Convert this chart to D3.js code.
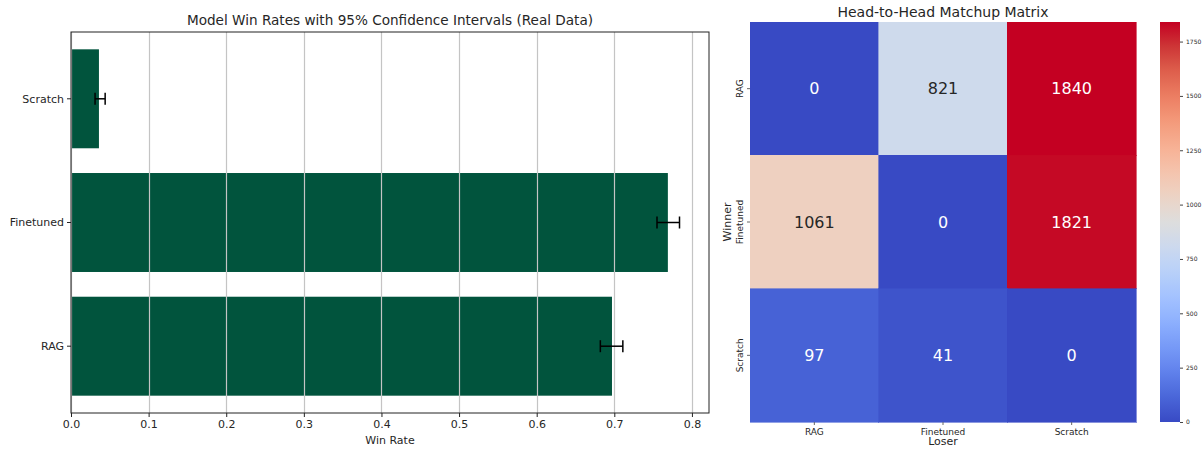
<!DOCTYPE html>
<html>
<head>
<meta charset="utf-8">
<script src="https://cdn.jsdelivr.net/npm/d3@7"></script>
<style>
  html, body { margin: 0; padding: 0; background: #fff; }
  svg { display: block; font-family: "DejaVu Sans", sans-serif; }
</style>
</head>
<body>
<svg id="chart" width="1202" height="449"></svg>
<script>
// Win rates with 95% confidence intervals
const models = ["RAG", "Finetuned", "Scratch"];
const winRates = [0.697, 0.769, 0.036];
const ciLow = [0.682, 0.755, 0.031];
const ciHigh = [0.711, 0.784, 0.044];
const rateTicks = [0, 0.1, 0.2, 0.3, 0.4, 0.5, 0.6, 0.7, 0.8];

// Head-to-head matrix: rows = winner, columns = loser
const winners = ["RAG", "Finetuned", "Scratch"];
const losers = ["RAG", "Finetuned", "Scratch"];
const matchups = [
  [0, 821, 1840],
  [1061, 0, 1821],
  [97, 41, 0]
];
const colorbarTicks = [0, 250, 500, 750, 1000, 1250, 1500, 1750];

const svg = d3.select("#chart");
const textColor = "#262626";

// ---------- Left panel: horizontal bar chart ----------
const L = { left: 71, right: 709, top: 32, bottom: 413 };
const x = d3.scaleLinear().domain([0, 0.822]).range([L.left, L.right]);
// matplotlib-style categorical positions: index 0 at bottom
const yPos = d3.scaleLinear().domain([-0.54, 2.54]).range([L.bottom, L.top]);
const barH = yPos(0) - yPos(0.8);

const left = svg.append("g");

left.selectAll("rect.bar")
  .data(models)
  .join("rect")
  .attr("class", "bar")
  .attr("x", x(0))
  .attr("y", (d, i) => yPos(i + 0.4))
  .attr("width", (d, i) => x(winRates[i]) - x(0))
  .attr("height", barH)
  .attr("fill", "#01543d");

// vertical grid lines drawn over the bars
left.append("g")
  .selectAll("line")
  .data(rateTicks)
  .join("line")
  .attr("x1", d => Math.round(x(d)) + 0.5)
  .attr("x2", d => Math.round(x(d)) + 0.5)
  .attr("y1", L.top)
  .attr("y2", L.bottom)
  .attr("stroke", "#c4c4c4")
  .attr("stroke-width", 1.2);

// error bars
const eb = left.append("g").attr("stroke", "#000").attr("stroke-width", 1.5);
models.forEach((m, i) => {
  const cy = yPos(i);
  eb.append("line").attr("x1", x(ciLow[i])).attr("x2", x(ciHigh[i])).attr("y1", cy).attr("y2", cy);
  eb.append("line").attr("x1", x(ciLow[i])).attr("x2", x(ciLow[i])).attr("y1", cy - 6).attr("y2", cy + 6);
  eb.append("line").attr("x1", x(ciHigh[i])).attr("x2", x(ciHigh[i])).attr("y1", cy - 6).attr("y2", cy + 6);
});

// frame
left.append("rect")
  .attr("x", L.left).attr("y", L.top)
  .attr("width", L.right - L.left).attr("height", L.bottom - L.top)
  .attr("fill", "none").attr("stroke", "#222").attr("stroke-width", 1);

// x axis
const xAxis = d3.axisBottom(x).tickValues(rateTicks).tickFormat(d3.format(".1f")).tickSize(4).tickPadding(3);
const gx = left.append("g").attr("transform", `translate(0,${L.bottom})`).call(xAxis);
gx.select(".domain").remove();
gx.selectAll("line").attr("stroke", "#222");
gx.selectAll("text").attr("fill", textColor).style("font-size", "11px").style("font-family", "DejaVu Sans");

// y axis
const gy = left.append("g");
models.forEach((m, i) => {
  const cy = yPos(i);
  gy.append("line").attr("x1", L.left - 4).attr("x2", L.left).attr("y1", cy).attr("y2", cy).attr("stroke", "#222");
  gy.append("text").attr("x", L.left - 7).attr("y", cy).attr("dy", "0.35em")
    .attr("text-anchor", "end").attr("fill", textColor).style("font-size", "11px").text(m);
});

left.append("text").attr("x", (L.left + L.right) / 2).attr("y", 444)
  .attr("text-anchor", "middle").attr("fill", textColor).style("font-size", "11px").text("Win Rate");

left.append("text").attr("x", (L.left + L.right) / 2).attr("y", 25)
  .attr("text-anchor", "middle").attr("fill", textColor).style("font-size", "13.6px")
  .text("Model Win Rates with 95% Confidence Intervals (Real Data)");

// ---------- Right panel: heatmap ----------
const H = { left: 750, right: 1136, top: 22, bottom: 422 };
const cx = d3.scaleBand().domain(losers).range([H.left, H.right]);
const cy = d3.scaleBand().domain(winners).range([H.top, H.bottom]);

const vmax = d3.max(matchups.flat());
// coolwarm diverging colormap stops
const coolwarmStops = [
  [56, 74, 196], [74, 102, 217], [96, 129, 236], [119, 154, 247], [141, 176, 254],
  [163, 194, 255], [184, 208, 249], [204, 217, 238], [221, 221, 221], [236, 211, 197],
  [245, 196, 173], [247, 177, 148], [244, 154, 123], [236, 127, 99], [222, 96, 77],
  [205, 55, 55], [196, 0, 34]
].map(c => d3.rgb(c[0], c[1], c[2]));
const coolwarm = d3.scaleLinear()
  .domain(d3.range(coolwarmStops.length).map(i => i / (coolwarmStops.length - 1)))
  .range(coolwarmStops)
  .interpolate(d3.interpolateRgb)
  .clamp(true);
const color = v => coolwarm(v / vmax);

const right = svg.append("g");
const cells = [];
matchups.forEach((row, r) => row.forEach((v, c) => cells.push({ r, c, v })));

right.selectAll("rect.cell")
  .data(cells)
  .join("rect")
  .attr("class", "cell")
  .attr("x", d => cx(losers[d.c]))
  .attr("y", d => cy(winners[d.r]))
  .attr("width", cx.bandwidth())
  .attr("height", cy.bandwidth())
  .attr("fill", d => color(d.v))
  .attr("stroke", d => color(d.v))
  .attr("stroke-width", 0.6)
  .attr("shape-rendering", "crispEdges");

function luminance(c) {
  const f = u => { u /= 255; return u <= 0.03928 ? u / 12.92 : Math.pow((u + 0.055) / 1.055, 2.4); };
  return 0.2126 * f(c.r) + 0.7152 * f(c.g) + 0.0722 * f(c.b);
}

right.selectAll("text.ann")
  .data(cells)
  .join("text")
  .attr("class", "ann")
  .attr("x", d => cx(losers[d.c]) + cx.bandwidth() / 2)
  .attr("y", d => cy(winners[d.r]) + cy.bandwidth() / 2)
  .attr("dy", "0.36em")
  .attr("text-anchor", "middle")
  .attr("fill", d => luminance(d3.rgb(color(d.v))) > 0.408 ? textColor : "#ffffff")
  .style("font-size", "16px")
  .text(d => d.v);

// heatmap ticks and labels
losers.forEach(l => {
  const px = cx(l) + cx.bandwidth() / 2;
  right.append("line").attr("x1", px).attr("x2", px).attr("y1", H.bottom).attr("y2", H.bottom + 3).attr("stroke", "#666");
  right.append("text").attr("x", px).attr("y", 435).attr("text-anchor", "middle")
    .attr("fill", textColor).style("font-size", "9px").text(l);
});
winners.forEach(w => {
  const py = cy(w) + cy.bandwidth() / 2;
  right.append("line").attr("x1", H.left - 3).attr("x2", H.left).attr("y1", py).attr("y2", py).attr("stroke", "#666");
  right.append("text").attr("transform", `translate(743,${py}) rotate(-90)`).attr("text-anchor", "middle")
    .attr("fill", textColor).style("font-size", "9px").text(w);
});

right.append("text").attr("x", (H.left + H.right) / 2).attr("y", 445)
  .attr("text-anchor", "middle").attr("fill", textColor).style("font-size", "11px").text("Loser");
right.append("text").attr("transform", `translate(731,${(H.top + H.bottom) / 2}) rotate(-90)`)
  .attr("text-anchor", "middle").attr("fill", textColor).style("font-size", "11px").text("Winner");

right.append("text").attr("x", (H.left + H.right) / 2).attr("y", 17)
  .attr("text-anchor", "middle").attr("fill", textColor).style("font-size", "14px")
  .text("Head-to-Head Matchup Matrix");

// colorbar
const CB = { left: 1160, right: 1180, top: 22, bottom: 422 };
const cbScale = d3.scaleLinear().domain([0, vmax]).range([CB.bottom, CB.top]);
const defs = svg.append("defs");
const grad = defs.append("linearGradient").attr("id", "cbgrad")
  .attr("x1", 0).attr("y1", 1).attr("x2", 0).attr("y2", 0);
d3.range(0, 1.0001, 0.02).forEach(t => {
  grad.append("stop").attr("offset", t).attr("stop-color", coolwarm(t));
});
svg.append("rect").attr("x", CB.left).attr("y", CB.top)
  .attr("width", CB.right - CB.left).attr("height", CB.bottom - CB.top)
  .attr("fill", "url(#cbgrad)");
const cbAxis = d3.axisRight(cbScale).tickValues(colorbarTicks).tickFormat(d3.format("d")).tickSize(3).tickPadding(3);
const gcb = svg.append("g").attr("transform", `translate(${CB.right},0)`).call(cbAxis);
gcb.select(".domain").remove();
gcb.selectAll("line").attr("stroke", "#444");
gcb.selectAll("text").attr("fill", textColor).style("font-size", "6px").style("font-family", "DejaVu Sans");
</script>
</body>
</html>
